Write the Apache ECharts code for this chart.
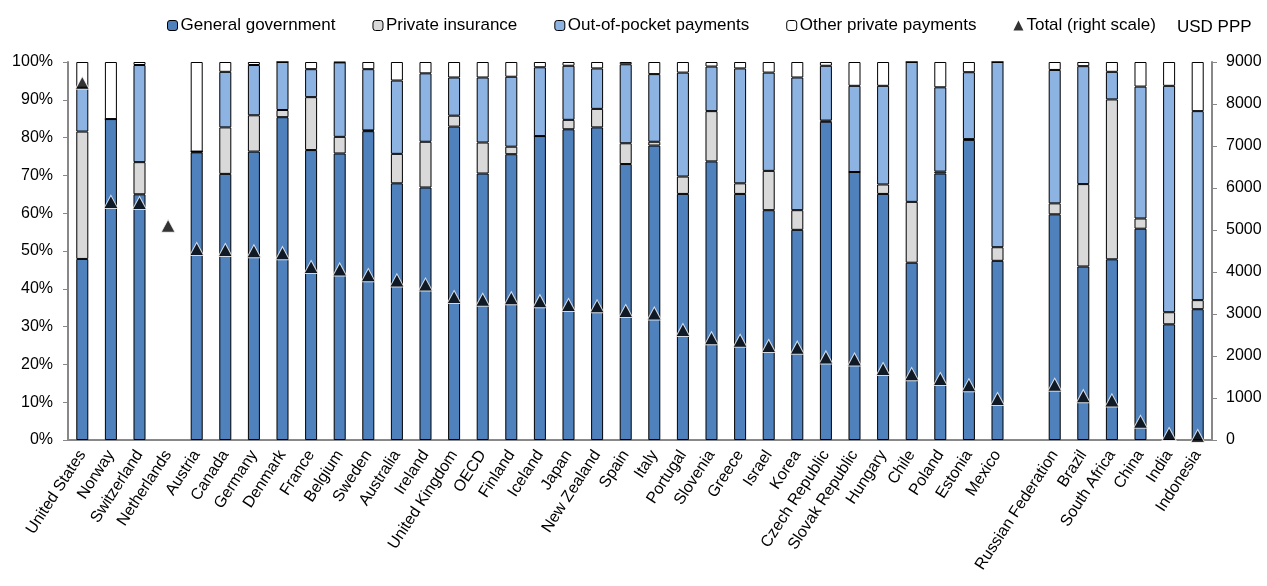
<!DOCTYPE html>
<html>
<head>
<meta charset="utf-8">
<script src="https://cdn.jsdelivr.net/npm/echarts@6/dist/echarts.min.js"></script>
<style>
  html, body { margin: 0; padding: 0; background: #fff; }
  #chart { width: 1267px; height: 586px; }
</style>
</head>
<body>
<div id="chart"></div>
<script>
// countries, '' is the blank slot between Mexico and the partner countries
const countries = ['United States', 'Norway', 'Switzerland', 'Netherlands', 'Austria', 'Canada', 'Germany',
  'Denmark', 'France', 'Belgium', 'Sweden', 'Australia', 'Ireland', 'United Kingdom', 'OECD', 'Finland',
  'Iceland', 'Japan', 'New Zealand', 'Spain', 'Italy', 'Portugal', 'Slovenia', 'Greece', 'Israel', 'Korea',
  'Czech Republic', 'Slovak Republic', 'Hungary', 'Chile', 'Poland', 'Estonia', 'Mexico', '',
  'Russian Federation', 'Brazil', 'South Africa', 'China', 'India', 'Indonesia']

// shares in % of spending
const generalGov = [47.9, 84.9, 65.0, null, 76.1, 70.4, 76.3, 85.4, 76.7, 75.8, 81.7, 67.9, 66.8, 82.9, 70.5, 75.6,
  80.4, 82.2, 82.7, 73.0, 77.9, 65.1, 73.7, 65.1, 60.8, 55.6, 84.2, 70.9, 65.1, 46.9, 70.5, 79.4, 47.4, null,
  59.7, 45.9, 47.8, 55.9, 30.6, 34.6]
const privateIns = [33.7, 0, 8.5, null, 0.2, 12.3, 9.6, 1.9, 14.0, 4.4, 0.2, 7.8, 12.1, 2.9, 8.2, 2.0,
  0, 2.5, 4.9, 5.5, 1.0, 4.6, 13.3, 2.8, 10.4, 5.2, 0.3, 0, 2.5, 16.1, 0.5, 0.2, 3.6, null,
  2.9, 21.8, 42.3, 2.7, 3.2, 2.4]
const outOfPocket = [11.6, 0, 25.7, null, 0, 14.7, 13.3, 12.7, 7.4, 19.7, 16.2, 19.4, 18.1, 10.1, 17.2, 18.5,
  18.2, 14.3, 10.7, 20.9, 17.9, 27.5, 11.8, 30.4, 26.0, 35.1, 14.5, 22.8, 26.1, 37.0, 22.3, 17.7, 49.0, null,
  35.3, 31.2, 7.3, 34.9, 59.9, 50.0]
const otherPriv = [6.8, 15.1, 0.8, null, 23.7, 2.6, 0.8, 0, 1.9, 0.1, 1.9, 4.9, 3.0, 4.1, 4.1, 3.9,
  1.4, 1.0, 1.7, 0.6, 3.2, 2.8, 1.2, 1.7, 2.8, 4.1, 1.0, 6.3, 6.3, 0, 6.7, 2.7, 0, null,
  2.1, 1.1, 2.6, 6.5, 6.3, 13.0]

// total spending per capita, USD PPP
const totalSpend = [8508, 5669, 5643, 5099, 4546, 4522, 4495, 4448, 4118, 4061, 3925, 3800, 3700, 3405, 3339, 3374,
  3305, 3213, 3182, 3072, 3012, 2619, 2421, 2361, 2239, 2198, 1966, 1915, 1689, 1568, 1452, 1303, 977, null,
  1316, 1043, 943, 432, 141, 95]

const chart = echarts.init(document.getElementById('chart'))
const font = 'Liberation Sans, Arial, sans-serif'

function barSeries(name, data, color) {
  return {
    name: name,
    type: 'bar',
    stack: 'share',
    data: data,
    barWidth: '42%',
    itemStyle: { color: color, borderColor: '#000', borderWidth: 1 },
    emphasis: { disabled: true }
  }
}

chart.setOption({
  animation: false,
  textStyle: { fontFamily: font },
  legend: {
    top: 12,
    left: 162,
    itemGap: 37,
    itemWidth: 10,
    itemHeight: 10,
    textStyle: { fontSize: 17, color: '#000', fontFamily: font, padding: [0, 0, 0, -2] },
    data: [
      { name: 'General government', itemStyle: { borderColor: '#000', borderWidth: 1 } },
      { name: 'Private insurance', itemStyle: { borderColor: '#000', borderWidth: 1 } },
      { name: 'Out-of-pocket payments', itemStyle: { borderColor: '#000', borderWidth: 1 } },
      { name: 'Other private payments', itemStyle: { borderColor: '#000', borderWidth: 1 } },
      { name: 'Total (right scale)', icon: 'triangle', itemStyle: { color: '#000', borderWidth: 0 } }
    ]
  },
  graphic: [{
    type: 'text', left: 1177, top: 19,
    style: { text: 'USD PPP', fontSize: 17, fill: '#000', fontFamily: font }
  }],
  grid: { left: 68, right: 55, top: 62, bottom: 146 },
  xAxis: {
    type: 'category',
    data: countries,
    axisLine: { lineStyle: { color: '#888', width: 2 } },
    axisTick: { inside: true, length: 4, lineStyle: { color: '#888' } },
    axisLabel: { interval: 0, rotate: 57, fontSize: 16, color: '#000', margin: 12 }
  },
  yAxis: [{
    type: 'value',
    min: 0, max: 100, interval: 10,
    axisLine: { show: true, lineStyle: { color: '#888', width: 2 } },
    axisTick: { show: true, length: 5, lineStyle: { color: '#888' } },
    splitLine: { show: false },
    axisLabel: { formatter: '{value}%', fontSize: 16, color: '#000', margin: 15 }
  }, {
    type: 'value',
    min: 0, max: 9000, interval: 1000,
    axisLine: { show: true, lineStyle: { color: '#888', width: 2 } },
    axisTick: { show: true, length: 5, lineStyle: { color: '#888' } },
    splitLine: { show: false },
    axisLabel: { formatter: v => String(v), fontSize: 16, color: '#000', margin: 14 }
  }],
  series: [
    barSeries('General government', generalGov, '#4F81BD'),
    barSeries('Private insurance', privateIns, '#D9D9D9'),
    barSeries('Out-of-pocket payments', outOfPocket, '#8DB3E2'),
    barSeries('Other private payments', otherPriv, '#FFFFFF'),
    {
      name: 'Total (right scale)',
      type: 'scatter',
      yAxisIndex: 1,
      data: totalSpend,
      symbol: 'triangle',
      symbolSize: [14, 13],
      itemStyle: { color: '#000', borderColor: '#fff', borderWidth: 1 },
      z: 5
    }
  ]
})
</script>
</body>
</html>
